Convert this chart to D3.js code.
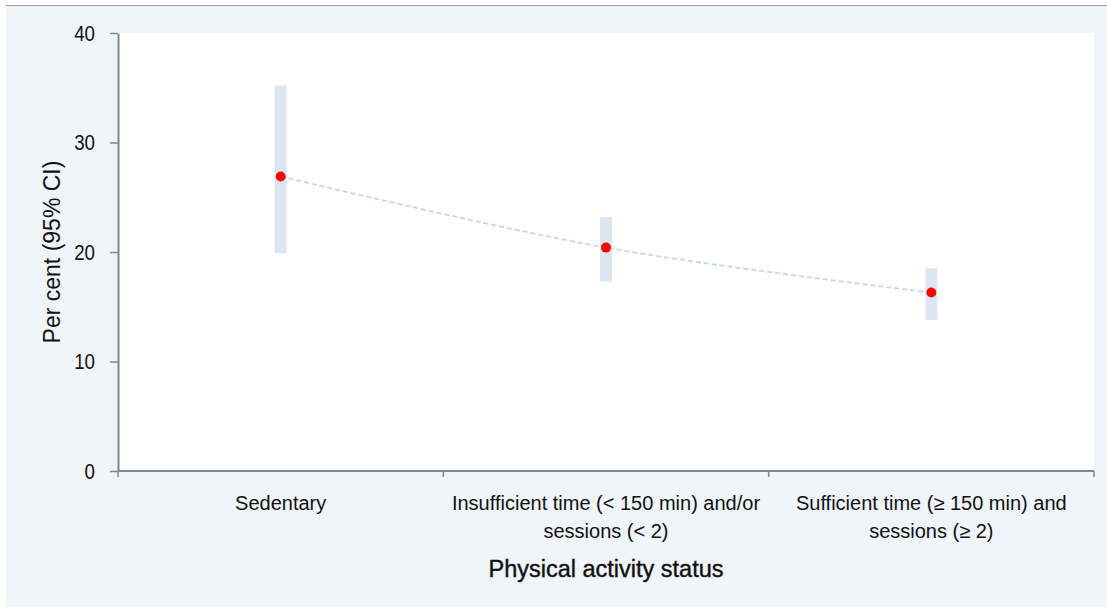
<!DOCTYPE html>
<html>
<head>
<meta charset="utf-8">
<script src="https://cdn.jsdelivr.net/npm/d3@7"></script>
<style>
  html, body { margin: 0; padding: 0; background: #ffffff; }
  svg { display: block; }
  text { font-family: "Liberation Sans Narrow", "Arial Narrow", "Liberation Sans", sans-serif; fill: #111; }
</style>
</head>
<body>
<svg id="chart" width="1107" height="607"></svg>
<script>
// Prevalence by physical activity status, with 95% confidence intervals
const categories = [
  ["Sedentary"],
  ["Insufficient time (< 150 min) and/or", "sessions (< 2)"],
  ["Sufficient  time  (\u2265 150 min) and", "sessions (\u2265 2)"]
];
const estimates = [26.9, 20.4, 16.3];
const ciLower = [19.9, 17.3, 13.8];
const ciUpper = [35.2, 23.2, 18.5];
const yTicks = [0, 10, 20, 30, 40];

const W = 1107, H = 607;
const margin = { left: 118, right: 13, top: 33, bottom: 136 };
const svg = d3.select("#chart");

// panel background and top rule
svg.append("rect").attr("x", 6).attr("y", 6).attr("width", W - 6).attr("height", H - 6).attr("fill", "#f0f4fb");
svg.append("line").attr("x1", 6).attr("x2", W).attr("y1", 5.5).attr("y2", 5.5).attr("stroke", "#9a9a9a").attr("stroke-width", 1);

const x = d3.scaleBand()
  .domain(d3.range(categories.length))
  .range([margin.left, W - margin.right]);
const y = d3.scaleLinear().domain([0, 40]).range([H - margin.bottom, margin.top]);

// plot area
svg.append("rect")
  .attr("x", margin.left).attr("y", margin.top)
  .attr("width", W - margin.right - margin.left)
  .attr("height", (H - margin.bottom) - margin.top)
  .attr("fill", "#ffffff");

// confidence interval bars
svg.append("g").selectAll("rect")
  .data(d3.range(categories.length))
  .join("rect")
  .attr("x", i => x(i) + x.bandwidth() / 2 - 6)
  .attr("width", 12)
  .attr("y", i => y(ciUpper[i]))
  .attr("height", i => y(ciLower[i]) - y(ciUpper[i]))
  .attr("fill", "#dce6f2");

// trend line through the estimates
const line = d3.line()
  .x((d, i) => x(i) + x.bandwidth() / 2)
  .y(d => y(d))
  .curve(d3.curveCatmullRom.alpha(0.5));
svg.append("path")
  .datum(estimates)
  .attr("d", line)
  .attr("fill", "none")
  .attr("stroke", "#c6d6ec")
  .attr("stroke-width", 1.8)
  .attr("stroke-dasharray", "5,3");

// point estimates
svg.append("g").selectAll("circle")
  .data(estimates)
  .join("circle")
  .attr("cx", (d, i) => x(i) + x.bandwidth() / 2)
  .attr("cy", d => y(d))
  .attr("r", 5)
  .attr("fill", "#ff0000");

// y axis
const yAxis = svg.append("g")
  .attr("transform", `translate(${margin.left},0)`)
  .call(d3.axisLeft(y).tickValues(yTicks).tickSize(8).tickPadding(0).tickSizeOuter(0));
yAxis.select(".domain").attr("stroke", "#868686").attr("stroke-width", 2);
yAxis.selectAll(".tick line").attr("stroke", "#868686").attr("stroke-width", 1.5);
// condensed tick numerals
yAxis.selectAll(".tick text")
  .attr("x", 0)
  .attr("transform", "translate(-23,0) scale(0.85,1)")
  .style("font-size", "22px")
  .attr("fill", "#111");

// x axis with ticks at band boundaries
const xBase = y(0);
svg.append("line")
  .attr("x1", margin.left).attr("x2", W - margin.right)
  .attr("y1", xBase).attr("y2", xBase)
  .attr("stroke", "#868686").attr("stroke-width", 2);
const bounds = d3.range(categories.length + 1).map(i => i < categories.length ? x(i) : x(i - 1) + x.bandwidth());
svg.append("g").selectAll("line")
  .data(bounds)
  .join("line")
  .attr("x1", d => d).attr("x2", d => d)
  .attr("y1", xBase).attr("y2", xBase + 6)
  .attr("stroke", "#868686").attr("stroke-width", 1.5);

// category labels
const labels = svg.append("g").selectAll("text")
  .data(categories)
  .join("text")
  .attr("text-anchor", "middle")
  .attr("x", (d, i) => x(i) + x.bandwidth() / 2)
  .attr("y", xBase + 39)
  .style("font-size", "20px");
labels.selectAll("tspan")
  .data(d => d)
  .join("tspan")
  .attr("x", function () { return d3.select(this.parentNode).attr("x"); })
  .attr("dy", (d, j) => j === 0 ? 0 : 28)
  .text(d => d);

// axis titles
svg.append("text")
  .attr("x", x(1) + x.bandwidth() / 2)
  .attr("y", 577)
  .attr("text-anchor", "middle")
  .style("font-size", "23.5px")
  .style("stroke", "#111")
  .style("stroke-width", "0.4px")
  .text("Physical activity status");

svg.append("text")
  .attr("transform", `translate(60, ${y(20)}) rotate(-90)`)
  .attr("text-anchor", "middle")
  .style("font-size", "23px")
  .text("Per cent (95% CI)");
</script>
</body>
</html>
